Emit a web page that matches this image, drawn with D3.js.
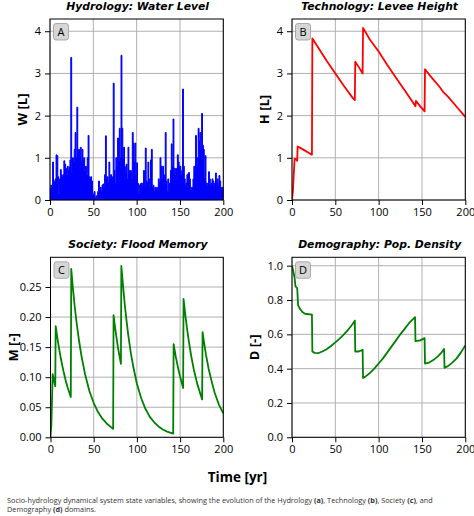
<!DOCTYPE html>
<html>
<head>
<meta charset="utf-8">
<title>Socio-hydrology state variables</title>
<script src="https://cdn.jsdelivr.net/npm/d3@7"></script>
<style>
  body { margin: 0; background: white; }
  svg text { font-family: "Open Sans", "DejaVu Sans", sans-serif; }
  .tick text { font-size: 11px; fill: #000; }
  .title { font-family: "DejaVu Sans", sans-serif !important; font-size: 10.8px; font-weight: bold; font-style: oblique; }
  .ylabel { font-size: 13px; font-weight: bold; }
  .caption { font-size: 7.3px; fill: #333; }
</style>
</head>
<body>
<script>
// water level per year, t = 0..199
var waterLevel = [
  0.25, 0.35, 0.3, 0.9, 0.4, 0.45, 0.5, 1.07, 1.05, 0.55,
  0.15, 0.5, 0.72, 0.6, 0.55, 0.6, 0.93, 0.85, 0.75, 0.6,
  0.8, 0.7, 0.78, 0.95, 3.38, 0.65, 1.0, 0.9, 1.2, 1.6,
  1.0, 2.2, 1.15, 1.2, 1.0, 1.25, 0.9, 1.2, 0.95, 1.0,
  0.7, 0.8, 0.6, 1.0, 1.53, 0.55, 0.5, 0.55, 0.45, 0.15,
  0.12, 0.2, 0.05, 0.1, 0.0, 0.2, 0.45, 0.25, 0.3, 0.2,
  0.35, 0.38, 0.3, 0.6, 1.52, 0.5, 0.55, 0.4, 0.9, 0.5,
  0.6, 0.45, 0.55, 2.77, 0.7, 0.4, 1.0, 0.8, 1.47, 0.9,
  1.7, 1.0, 3.43, 1.7, 1.0, 1.25, 0.8, 0.65, 0.85, 0.5,
  1.25, 0.7, 0.65, 0.7, 0.5, 1.6, 1.35, 0.9, 1.35, 0.6,
  0.88, 0.4, 0.15, 0.35, 0.38, 0.4, 0.35, 0.4, 0.7, 0.35,
  1.23, 0.45, 0.4, 0.9, 0.5, 0.35, 0.95, 1.2, 0.3, 0.35,
  0.2, 0.3, 0.25, 0.3, 0.25, 0.5, 0.4, 1.0, 0.8, 0.5,
  0.8, 0.6, 0.5, 1.6, 0.45, 0.2, 0.5, 0.2, 0.4, 0.7,
  1.33, 0.8, 1.92, 0.75, 0.6, 0.75, 0.5, 1.07, 0.9, 0.8,
  0.8, 0.6, 0.7, 2.63, 0.8, 0.5, 0.35, 0.4, 0.6, 0.62,
  0.65, 0.5, 0.25, 0.3, 0.3, 0.5, 0.8, 0.7, 1.53, 0.8,
  1.0, 1.7, 1.4, 1.6, 1.2, 2.05, 1.3, 1.2, 0.5, 1.05,
  0.4, 0.35, 0.4, 0.67, 0.5, 0.35, 0.4, 0.5, 0.45, 0.35,
  0.4, 0.64, 0.4, 0.5, 0.35, 0.58, 0.45, 0.3, 0.25, 0.3
];

// levee height
var leveeT = [0, 1, 3, 4, 5.5, 6, 6.5, 10, 15, 20, 23, 23.5, 30, 40, 50, 60, 70, 72.5,
  73, 78, 81.5, 82, 90, 100, 110, 120, 130, 140, 142.5, 143, 148, 153, 153.5,
  160, 170, 175, 180, 190, 200];
var leveeH = [0, 0.2, 0.98, 0.97, 0.95, 0.93, 1.27, 1.23, 1.17, 1.11, 1.07, 3.83, 3.62, 3.3, 3.0, 2.7, 2.42, 2.37,
  3.28, 3.12, 3.0, 4.08, 3.8, 3.52, 3.2, 2.9, 2.6, 2.3, 2.22, 2.35, 2.22, 2.1, 3.1,
  2.93, 2.69, 2.55, 2.45, 2.21, 1.97];

// flood memory
var memoryT = [0, 1, 2.5, 4, 5.5, 6, 8, 10, 12, 15, 18, 20, 23.5,
  24, 26, 28, 30, 33, 36, 40, 45, 50, 55, 60, 65, 70, 72.5,
  73, 75, 78, 81.5,
  82, 84, 86, 88, 90, 93, 96, 100, 105, 110, 115, 120, 125, 130, 135, 142,
  142.5, 145, 148, 150, 153.5,
  154, 156, 158, 160, 163, 166, 170, 175.5,
  176, 178, 180, 183, 186, 190, 195, 200];
var memoryM = [0, 0.02, 0.105, 0.095, 0.085, 0.185, 0.165, 0.147, 0.131, 0.11, 0.092, 0.082, 0.067,
  0.28, 0.247, 0.218, 0.193, 0.161, 0.134, 0.105, 0.077, 0.057, 0.042, 0.031, 0.023, 0.017, 0.014,
  0.203, 0.18, 0.15, 0.122,
  0.285, 0.251, 0.22, 0.194, 0.17, 0.14, 0.116, 0.089, 0.065, 0.047, 0.034, 0.025, 0.018, 0.013, 0.0095, 0.006,
  0.155, 0.134, 0.113, 0.101, 0.082,
  0.23, 0.204, 0.181, 0.161, 0.134, 0.112, 0.088, 0.063,
  0.175, 0.155, 0.137, 0.114, 0.096, 0.074, 0.054, 0.04];

// population density
var densityT = [0, 1, 3, 4, 6, 7, 9, 12, 15, 23,
  23.5, 26, 30, 35, 40, 45, 50, 55, 60, 65, 70, 72.5,
  73, 77, 81.5,
  82, 85, 90, 95, 100, 105, 110, 115, 120, 125, 130, 135, 142,
  142.5, 148, 153,
  153.5, 158, 163, 168, 172, 175.5,
  176, 180, 185, 190, 195, 200];
var densityD = [1.0, 0.98, 0.93, 0.88, 0.87, 0.77, 0.75, 0.73, 0.72, 0.715,
  0.5, 0.492, 0.49, 0.5, 0.513, 0.532, 0.553, 0.575, 0.6, 0.628, 0.66, 0.68,
  0.5, 0.5, 0.51,
  0.345, 0.355, 0.375, 0.4, 0.43, 0.46, 0.495, 0.53, 0.565, 0.6, 0.632, 0.665, 0.7,
  0.56, 0.565, 0.578,
  0.43, 0.435, 0.45, 0.47, 0.49, 0.515,
  0.405, 0.415, 0.435, 0.46, 0.495, 0.535];

var xTicks = [0, 50, 100, 150, 200];
var hTicks = [0, 1, 2, 3, 4];
var mTicks = [0, 0.05, 0.1, 0.15, 0.2, 0.25];
var dTicks = [0, 0.2, 0.4, 0.6, 0.8, 1.0];

var width = 474, height = 516;
var svg = d3.select("body").append("svg")
  .attr("width", width).attr("height", height);

function panel(opt) {
  var x = d3.scaleLinear().domain([0, 200]).range([opt.left, opt.left + opt.w]);
  var y = d3.scaleLinear().domain([0, opt.ymax]).range([opt.top + opt.h, opt.top]);
  var g = svg.append("g");

  // grid
  g.append("g").selectAll("line").data(xTicks).enter().append("line")
    .attr("x1", d => x(d)).attr("x2", d => x(d))
    .attr("y1", opt.top).attr("y2", opt.top + opt.h)
    .attr("stroke", "#b0b0b0").attr("stroke-width", 1);
  g.append("g").selectAll("line").data(opt.yTicks).enter().append("line")
    .attr("x1", opt.left).attr("x2", opt.left + opt.w)
    .attr("y1", d => y(d)).attr("y2", d => y(d))
    .attr("stroke", "#b0b0b0").attr("stroke-width", 1);

  var clip = "clip" + opt.id;
  g.append("clipPath").attr("id", clip).append("rect")
    .attr("x", opt.left).attr("y", opt.top).attr("width", opt.w).attr("height", opt.h);
  var plot = g.append("g").attr("clip-path", "url(#" + clip + ")");

  if (opt.bars) {
    // one step per year, closed at t = 200
    var steps = opt.bars.concat([opt.bars[opt.bars.length - 1]]);
    plot.append("path")
      .attr("d", d3.area().curve(d3.curveStepAfter)
        .x((d, i) => x(i)).y0(y(0)).y1(d => y(d))(steps))
      .attr("fill", opt.color)
      .attr("stroke", opt.color).attr("stroke-width", 1);
  } else {
    var pts = opt.t.map((t, i) => [t, opt.v[i]]);
    plot.append("path")
      .attr("d", d3.line().x(d => x(d[0])).y(d => y(d[1]))(pts))
      .attr("fill", "none").attr("stroke", opt.color)
      .attr("stroke-width", 1.8).attr("stroke-linejoin", "round");
  }

  // axes
  g.append("g").attr("transform", "translate(0," + (opt.top + opt.h) + ")")
    .call(d3.axisBottom(x).tickValues(xTicks).tickSize(5).tickPadding(3).tickFormat(d3.format("d")))
    .call(a => a.select(".domain").remove());
  g.append("g").attr("transform", "translate(" + opt.left + ",0)")
    .call(d3.axisLeft(y).tickValues(opt.yTicks).tickSize(5).tickPadding(4).tickFormat(d3.format(opt.fmt)))
    .call(a => a.select(".domain").remove());
  g.selectAll(".tick text").attr("font-family", null).attr("font-size", null);

  g.append("rect")
    .attr("x", opt.left).attr("y", opt.top).attr("width", opt.w).attr("height", opt.h)
    .attr("fill", "none").attr("stroke", "#000").attr("stroke-width", 1);

  // panel letter
  g.append("rect")
    .attr("x", opt.left + 3.5).attr("y", opt.top + 4.5).attr("width", 15).attr("height", 16.5)
    .attr("rx", 2.5).attr("fill", "#d6d6d6").attr("stroke", "#9a9a9a").attr("stroke-width", 0.8);
  g.append("text").attr("x", opt.left + 11).attr("y", opt.top + 16.8)
    .attr("text-anchor", "middle").style("font-size", "11px").text(opt.letter);

  g.append("text").attr("class", "title")
    .attr("x", opt.left + opt.w / 2 + 1).attr("y", opt.top - 9.3)
    .attr("text-anchor", "middle").text(opt.title);

  g.append("text").attr("class", "ylabel")
    .attr("transform", "translate(" + (opt.labelX + 4.6) + "," + (opt.top + opt.h / 2) + ") rotate(-90)")
    .attr("text-anchor", "middle").text(opt.ylabel);
}

panel({ id: "a", left: 50, top: 19, w: 173.3, h: 181, ymax: 4.29, yTicks: hTicks, fmt: "d",
  bars: waterLevel, color: "#0000ff", letter: "A", title: "Hydrology: Water Level", ylabel: "W [L]", labelX: 22 });
panel({ id: "b", left: 292, top: 19, w: 173.3, h: 181, ymax: 4.29, yTicks: hTicks, fmt: "d",
  t: leveeT, v: leveeH, color: "#ff0000", letter: "B", title: "Technology: Levee Height", ylabel: "H [L]", labelX: 264 });
panel({ id: "c", left: 50.5, top: 257.3, w: 172.8, h: 180, ymax: 0.2994, yTicks: mTicks, fmt: ".2f",
  t: memoryT, v: memoryM, color: "#008000", letter: "C", title: "Society: Flood Memory", ylabel: "M [-]", labelX: 13.5 });
panel({ id: "d", left: 292, top: 257.3, w: 173.3, h: 180, ymax: 1.049, yTicks: dTicks, fmt: ".1f",
  t: densityT, v: densityD, color: "#008000", letter: "D", title: "Demography: Pop. Density", ylabel: "D [-]", labelX: 254 });

svg.append("text").attr("x", 237.5).attr("y", 482)
  .attr("text-anchor", "middle").style("font-size", "13.5px").style("font-weight", "bold")
  .text("Time [yr]");

var cap = svg.append("text").attr("class", "caption").attr("x", 7).attr("y", 503);
cap.append("tspan").text("Socio-hydrology dynamical system state variables, showing the evolution of the Hydrology ");
cap.append("tspan").style("font-weight", "bold").text("(a)");
cap.append("tspan").text(", Technology ");
cap.append("tspan").style("font-weight", "bold").text("(b)");
cap.append("tspan").text(", Society ");
cap.append("tspan").style("font-weight", "bold").text("(c)");
cap.append("tspan").text(", and");
var cap2 = svg.append("text").attr("class", "caption").attr("x", 7).attr("y", 512);
cap2.append("tspan").text("Demography ");
cap2.append("tspan").style("font-weight", "bold").text("(d)");
cap2.append("tspan").text(" domains.");
</script>
</body>
</html>
